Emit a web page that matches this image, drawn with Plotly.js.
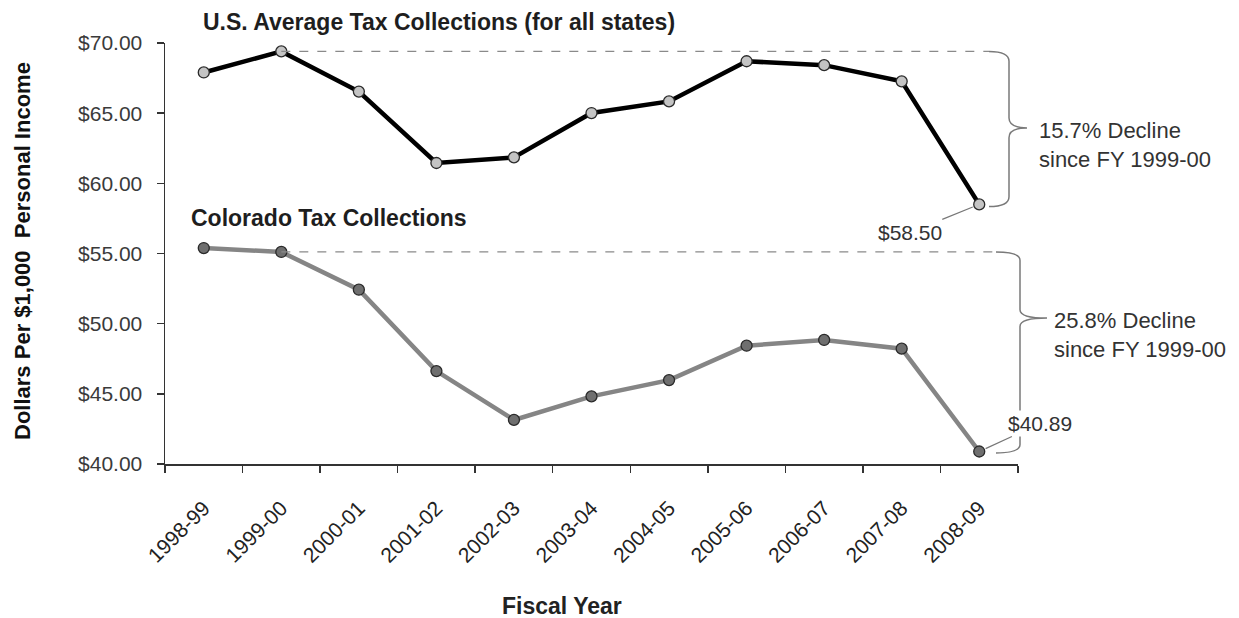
<!DOCTYPE html>
<html>
<head>
<meta charset="utf-8">
<script src="https://cdn.plot.ly/plotly-3.0.1.min.js"></script>
<style>html,body{margin:0;padding:0;background:#fff;}#chart{width:1239px;height:618px;}</style>
</head>
<body>
<div id="chart"></div>
<script>
// ---- data ----
var fiscalYears = ["1998-99","1999-00","2000-01","2001-02","2002-03","2003-04","2004-05","2005-06","2006-07","2007-08","2008-09"];
var usAverage = [67.9, 69.40, 66.54, 61.45, 61.85, 65.01, 65.84, 68.70, 68.42, 67.27, 58.50];
var colorado = [55.39, 55.11, 52.42, 46.62, 43.14, 44.82, 45.98, 48.43, 48.84, 48.22, 40.89];
var yTickValues = [40, 45, 50, 55, 60, 65, 70];
var yTickLabels = yTickValues.map(function(v){ return "$" + v.toFixed(2); });
var usTitle = "U.S. Average Tax Collections (for all states)";
var coTitle = "Colorado Tax Collections";
var usDeclineText = "15.7% Decline<br>since FY 1999-00";
var coDeclineText = "25.8% Decline<br>since FY 1999-00";

// ---- layout helpers ----
var ML = 165, PW = 853;
function px(p){ return (p - ML) / PW; }
var FONT = "Liberation Sans, Arial, sans-serif";
var last = fiscalYears.length - 1;

var traces = [
  {
    x: fiscalYears, y: usAverage, type: "scatter", mode: "lines+markers",
    line: {color: "#000000", width: 4.5},
    marker: {size: 11, color: "#c4c4c4", line: {color: "#2a2a2a", width: 1.3}},
    hoverinfo: "skip"
  },
  {
    x: fiscalYears, y: colorado, type: "scatter", mode: "lines+markers",
    line: {color: "#858585", width: 4.5},
    marker: {size: 11, color: "#6f6f6f", line: {color: "#2a2a2a", width: 1.3}},
    hoverinfo: "skip"
  }
];

// brace geometry (paper x, data y)
function bracePath(xl, xs, xt, y0, ytip, y1, d) {
  return "M " + xl + "," + y0 +
    " Q " + xs + "," + y0 + " " + xs + "," + (y0 - d) +
    " L " + xs + "," + (ytip + d) +
    " Q " + xs + "," + ytip + " " + xt + "," + ytip +
    " Q " + xs + "," + ytip + " " + xs + "," + (ytip - d) +
    " L " + xs + "," + (y1 + d) +
    " Q " + xs + "," + y1 + " " + xl + "," + y1;
}
var usTop = usAverage[1], usBot = usAverage[last], usTip = (usTop + usBot) / 2;
var coTop = colorado[1], coBot = colorado[last] - 0.1, coTip = 50.4;

var startX = 1.5 / fiscalYears.length;

var shapes = [
  {type: "line", xref: "paper", yref: "y", x0: startX, x1: px(989), y0: usTop, y1: usTop,
   line: {color: "#8a8a8a", width: 1.3, dash: "dash"}},
  {type: "line", xref: "paper", yref: "y", x0: startX, x1: px(996), y0: coTop, y1: coTop,
   line: {color: "#8a8a8a", width: 1.3, dash: "dash"}},
  {type: "path", xref: "paper", yref: "y",
   path: bracePath(px(989), px(1009), px(1027), usTop, usTip, usBot - 0.15, 0.7),
   line: {color: "#7a7a7a", width: 1.5}},
  {type: "path", xref: "paper", yref: "y",
   path: bracePath(px(996), px(1020), px(1047), coTop, coTip, coBot, 0.6),
   line: {color: "#7a7a7a", width: 1.5}}
];

var annotations = [
  {text: "<b>" + usTitle + "</b>", xref: "paper", yref: "paper", x: px(201), y: 1.05,
   xanchor: "left", yanchor: "middle", showarrow: false, font: {family: FONT, size: 23, color: "#1e1e1e"}},
  {text: "<b>" + coTitle + "</b>", xref: "paper", yref: "paper", x: px(189), y: 0.584,
   xanchor: "left", yanchor: "middle", showarrow: false, font: {family: FONT, size: 23, color: "#1e1e1e"}},
  {text: "<b>Dollars Per $1,000  Personal Income</b>", xref: "paper", yref: "paper", x: px(23), y: 0.506,
   xanchor: "center", yanchor: "middle", textangle: -90, showarrow: false, font: {family: FONT, size: 22, color: "#111"}},
  {text: "<b>Fiscal Year</b>", xref: "paper", yref: "paper", x: px(562), y: -0.337,
   xanchor: "center", yanchor: "middle", showarrow: false, font: {family: FONT, size: 23, color: "#222"}},
  {text: usDeclineText, xref: "paper", yref: "y", x: px(1037), y: usTip, yshift: -17,
   xanchor: "left", yanchor: "middle", align: "left", showarrow: false, font: {family: FONT, size: 22, color: "#333"}},
  {text: coDeclineText, xref: "paper", yref: "y", x: px(1052), y: coTip, yshift: -17,
   xanchor: "left", yanchor: "middle", align: "left", showarrow: false, font: {family: FONT, size: 22, color: "#333"}},
  {text: "$" + usAverage[last].toFixed(2), xref: "x", yref: "y", x: fiscalYears[last], y: usAverage[last],
   showarrow: true, arrowhead: 0, arrowwidth: 1.2, arrowcolor: "#777", ax: -69, ay: 28, standoff: 7,
   font: {family: FONT, size: 21, color: "#333"}},
  {text: "$" + colorado[last].toFixed(2), xref: "x", yref: "y", x: fiscalYears[last], y: colorado[last],
   showarrow: true, arrowhead: 0, arrowwidth: 1.2, arrowcolor: "#777", ax: 61, ay: -28, standoff: 7,
   bgcolor: "#ffffff", font: {family: FONT, size: 21, color: "#333"}}
];

var layout = {
  width: 1239, height: 618, autosize: false,
  margin: {l: ML, r: 1239 - ML - PW, t: 43, b: 154, pad: 0},
  paper_bgcolor: "#ffffff", plot_bgcolor: "#ffffff",
  showlegend: false,
  font: {family: FONT, size: 21, color: "#333"},
  xaxis: {
    type: "category", categoryorder: "array", categoryarray: fiscalYears,
    range: [-0.5, fiscalYears.length - 0.5],
    showline: true, linecolor: "#333", linewidth: 1.5, mirror: false,
    ticks: "outside", tickson: "boundaries", ticklen: 7, tickcolor: "#333", tickwidth: 1.5,
    tickangle: -45, ticklabelstandoff: 22,
    tickfont: {family: FONT, size: 21, color: "#222"},
    showgrid: false, zeroline: false, fixedrange: true
  },
  yaxis: {
    range: [40, 70], tickvals: yTickValues, ticktext: yTickLabels,
    showline: true, linecolor: "#333", linewidth: 1.5,
    ticks: "outside", ticklen: 7, tickcolor: "#333", tickwidth: 1.5,
    ticklabelstandoff: 10,
    tickfont: {family: FONT, size: 21, color: "#3a3a3a"},
    showgrid: false, zeroline: false, fixedrange: true
  },
  shapes: shapes,
  annotations: annotations
};

Plotly.newPlot("chart", traces, layout, {displayModeBar: false, staticPlot: true});
</script>
</body>
</html>
